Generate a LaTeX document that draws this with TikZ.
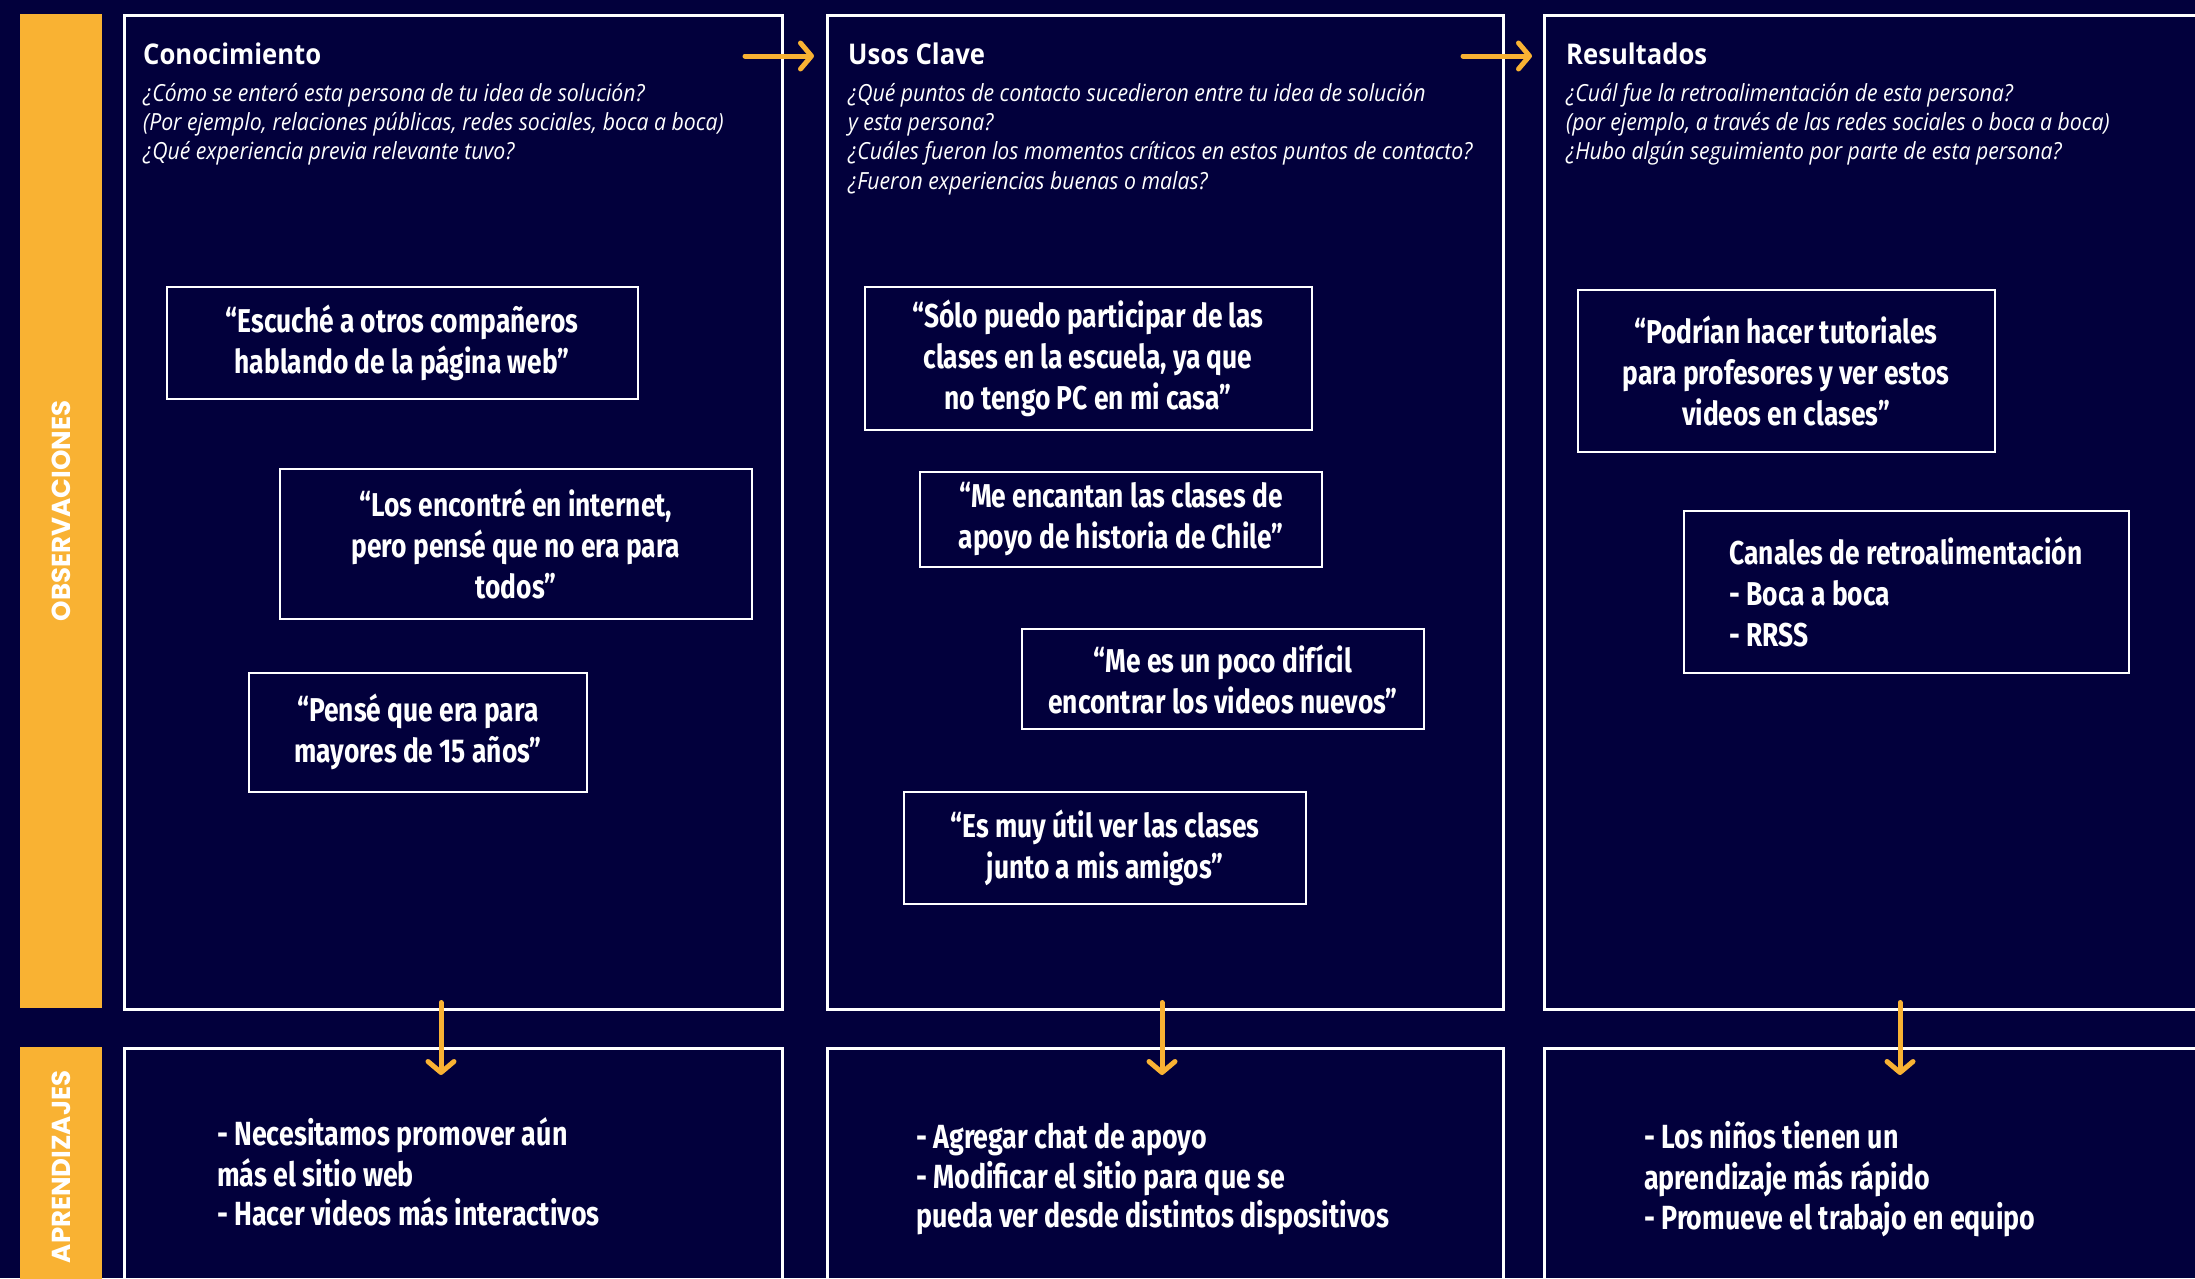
\documentclass[tikz,border=0pt]{standalone}
\usepackage{fontspec}
\setmainfont{Open Sans}
\newfontfamily\headfont[FakeStretch=0.9]{Open Sans}
\newfontfamily\handfont[FakeStretch=0.8]{Fira Sans}
\newfontfamily\sidefont{Poppins}
\usetikzlibrary{arrows.meta,calc}
\definecolor{navy}{HTML}{02003C}
\definecolor{mango}{HTML}{F9B233}

\tikzset{
  panel/.style={draw=white, line width=2.5pt, anchor=north west, inner sep=0pt},
  sidebar/.style={fill=mango, rotate=90, text=white, inner sep=0pt, minimum height=82pt,
    font=\sidefont\bfseries\fontsize{26}{30}\selectfont},
  head/.style={anchor=base west, inner sep=0pt, text=white,
    font=\headfont\bfseries\fontsize{28.5}{32}\selectfont},
  ask/.style={anchor=north west, inner sep=0pt, text=white, align=left,
    font=\headfont\itshape\fontsize{23.6}{29.4}\selectfont},
  quote/.style={draw=white, line width=2pt, text=white, align=center, inner sep=0pt,
    font=\handfont\bfseries\fontsize{33}{41}\selectfont},
  learn/.style={anchor=north west, inner sep=0pt, text=white, align=left,
    font=\handfont\bfseries\fontsize{33.5}{39.5}\selectfont},
  flow/.style={draw=mango, line width=5pt, line cap=round,
    -{Straight Barb[round, length=11pt, width=26pt]}}
}

\begin{document}
\begin{tikzpicture}[x=1pt, y=-1pt]
  \fill[navy] (0,0) rectangle (2195,1278);
  \useasboundingbox (0,0) rectangle (2195,1278);

  % side bars
  \node[sidebar, minimum width=994pt] (obsbar) at (61,511) {OBSERVACIONES};
  \node[sidebar, minimum width=240pt] (aprbar) at (61,1167) {APRENDIZAJES};

  % columns
  \node[panel, minimum width=658pt, minimum height=994pt] (obs1) at (123,14) {};
  \node[panel, minimum width=676pt, minimum height=994pt] (obs2) at (826,14) {};
  \node[panel, minimum width=700pt, minimum height=994pt] (obs3) at (1543,14) {};
  \node[panel, minimum width=658pt, minimum height=300pt] (apr1) at (123,1047) {};
  \node[panel, minimum width=676pt, minimum height=300pt] (apr2) at (826,1047) {};
  \node[panel, minimum width=700pt, minimum height=300pt] (apr3) at (1543,1047) {};

  \node[head] (h1) at (143,64) {Conocimiento};
  \node[head] (h2) at (848,64) {Usos Clave};
  \node[head] (h3) at (1566,64) {Resultados};

  \node[ask] (q1) at (143,80.4) {\strut¿Cómo se enteró esta persona de tu idea de solución?\\
    (Por ejemplo, relaciones públicas, redes sociales, boca a boca)\\
    ¿Qué experiencia previa relevante tuvo?};
  \node[ask] (q2) at (848,80.4) {\strut¿Qué puntos de contacto sucedieron entre tu idea de solución\\
    y esta persona?\\
    ¿Cuáles fueron los momentos críticos en estos puntos de contacto?\\
    ¿Fueron experiencias buenas o malas?};
  \node[ask] (q3) at (1566,80.4) {\strut¿Cuál fue la retroalimentación de esta persona?\\
    (por ejemplo, a través de las redes sociales o boca a boca)\\
    ¿Hubo algún seguimiento por parte de esta persona?};

  % quotes
  \node[quote, minimum width=471pt, minimum height=112pt] (c1) at (402,343)
    {“Escuché a otros compañeros\\hablando de la página web”};
  \node[quote, minimum width=472pt, minimum height=150pt] (c2) at (516,544)
    {“Los encontré en internet,\\pero pensé que no era para\\todos”};
  \node[quote, minimum width=338pt, minimum height=119pt] (c3) at (418,732)
    {“Pensé que era para\\mayores de 15 años”};
  \node[quote, minimum width=447pt, minimum height=143pt] (c4) at (1088,358)
    {“Sólo puedo participar de las\\clases en la escuela, ya que\\no tengo PC en mi casa”};
  \node[quote, minimum width=402pt, minimum height=95pt] (c5) at (1121,519)
    {“Me encantan las clases de\\apoyo de historia de Chile”};
  \node[quote, minimum width=402pt, minimum height=100pt] (c6) at (1223,679)
    {“Me es un poco difícil\\encontrar los videos nuevos”};
  \node[quote, minimum width=402pt, minimum height=112pt] (c7) at (1105,848)
    {“Es muy útil ver las clases\\junto a mis amigos”};
  \node[quote, minimum width=417pt, minimum height=162pt] (c8) at (1786,371)
    {“Podrían hacer tutoriales\\para profesores y ver estos\\videos en clases”};
  \node[quote, minimum width=445pt, minimum height=162pt, align=left] (c9) at (1906,592)
    {Canales de retroalimentación\\- Boca a boca\\- RRSS};

  % learnings
  \node[learn] (l1) at (217,1117) {\strut- Necesitamos promover aún\\más el sitio web\\- Hacer videos más interactivos};
  \node[learn] (l2) at (916,1121) {\strut- Agregar chat de apoyo\\- Modificar el sitio para que se\\pueda ver desde distintos dispositivos};
  \node[learn] (l3) at (1644,1121) {\strut- Los niños tienen un\\aprendizaje más rápido\\- Promueve el trabajo en equipo};

  % arrows
  \coordinate (a1) at (745,56);
  \coordinate (a2) at (814,56);
  \coordinate (a3) at (1463,56);
  \coordinate (a4) at (1532,56);
  \draw[flow] (a1) -- (a2);
  \draw[flow] (a3) -- (a4);
  \draw[flow] (obs1.south -| 441,0) ++(0,-8) -- ($(apr1.north -| 441,0)+(0,28)$);
  \draw[flow] (obs2.south -| 1162,0) ++(0,-8) -- ($(apr2.north -| 1162,0)+(0,28)$);
  \draw[flow] (obs3.south -| 1900,0) ++(0,-8) -- ($(apr3.north -| 1900,0)+(0,28)$);
\end{tikzpicture}
\end{document}
